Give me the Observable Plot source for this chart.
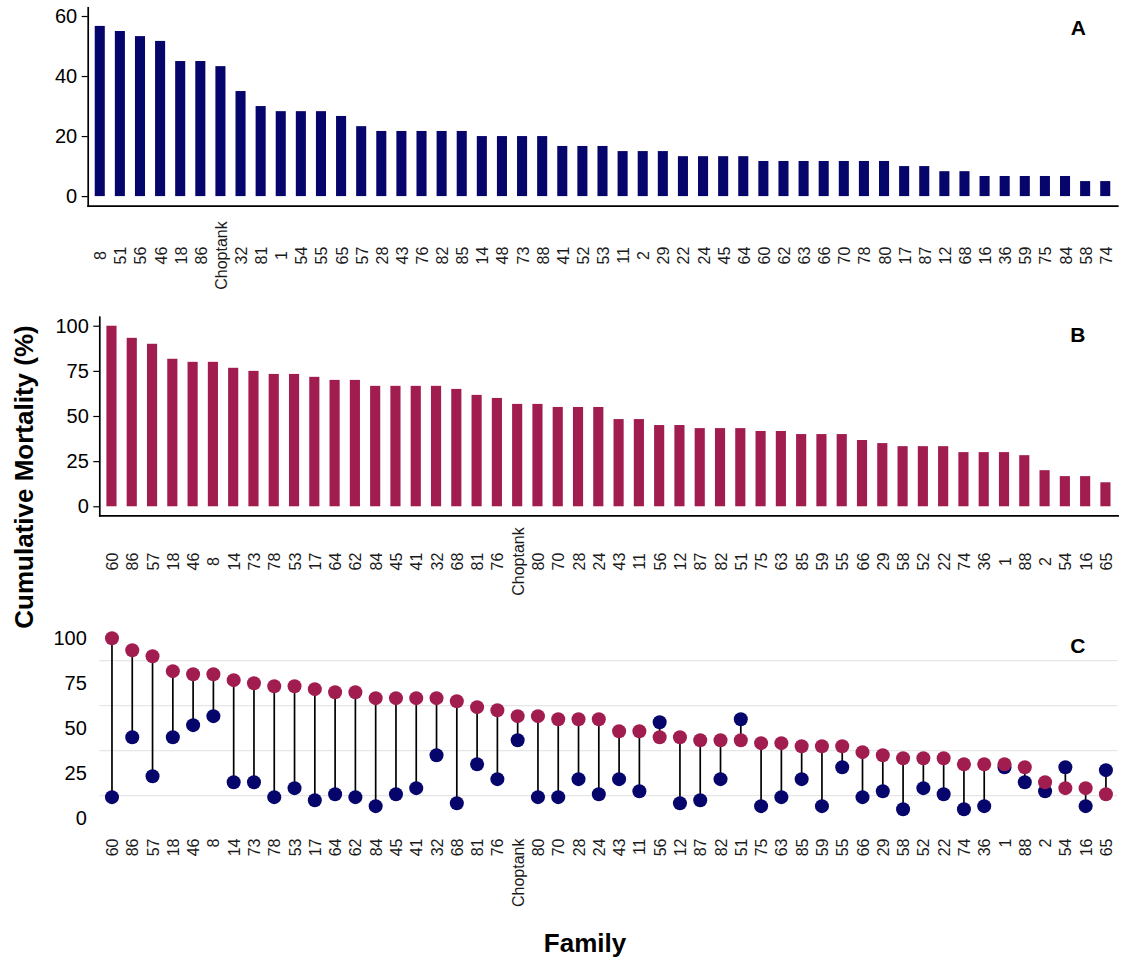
<!DOCTYPE html>
<html>
<head>
<meta charset="utf-8">
<script src="https://cdn.jsdelivr.net/npm/d3@7"></script>
<script src="https://cdn.jsdelivr.net/npm/@observablehq/plot@0.6"></script>
<style>
  body { margin: 0; background: #fff; }
  #fig { position: relative; width: 1123px; height: 961px; font-family: "Liberation Sans", Arial, Helvetica, sans-serif; color: #000; }
  .panel { position: absolute; left: 0; }
  .axis-title { position: absolute; font-weight: bold; font-size: 26px; white-space: nowrap; line-height: 1; }
</style>
</head>
<body>
<div id="fig"></div>
<script>
// Families ranked by cumulative mortality, trial A
const familiesA = ["8","51","56","46","18","86","Choptank","32","81","1","54","55","65","57","28","43","76","82","85","14","48","73","88","41","52","53","11","2","29","22","24","45","64","60","62","63","66","70","78","80","17","87","12","68","16","36","59","75","84","58","74"];
const mortalityA = [56.7,55,53.3,51.7,45,45,43.3,35,30,28.3,28.3,28.3,26.7,23.3,21.7,21.7,21.7,21.7,21.7,20,20,20,20,16.7,16.7,16.7,15,15,15,13.3,13.3,13.3,13.3,11.7,11.7,11.7,11.7,11.7,11.7,11.7,10,10,8.3,8.3,6.7,6.7,6.7,6.7,6.7,5,5];

// Families ranked by cumulative mortality, trial B
const familiesB = ["60","86","57","18","46","8","14","73","78","53","17","64","62","84","45","41","32","68","81","76","Choptank","80","70","28","24","43","11","56","12","87","82","51","75","63","85","59","55","66","29","58","52","22","74","36","1","88","2","54","16","65"];
const mortalityB = [100,93.3,90,81.7,80,80,76.7,75,73.3,73.3,71.7,70,70,66.7,66.7,66.7,66.7,65,61.7,60,56.7,56.7,55,55,55,48.3,48.3,45,45,43.3,43.3,43.3,41.7,41.7,40,40,40,36.7,35,33.3,33.3,33.3,30,30,30,28.3,20,16.7,16.7,13.3];

const ticksA = [0, 20, 40, 60];
const ticksBC = [0, 25, 50, 75, 100];
const gridC = [12.5, 37.5, 62.5, 87.5];

const navy = "#05056b";
const crimson = "#a11d50";
const font = "Liberation Sans, Arial, Helvetica, sans-serif";

const dataA = familiesA.map((f, i) => ({family: f, value: mortalityA[i]}));
const dataB = familiesB.map((f, i) => ({family: f, value: mortalityB[i]}));
const byFamilyA = new Map(dataA.map(d => [d.family, d.value]));
// paired view: both trials for families present in B, in B's order
const dataC = familiesB.map((f, i) => ({family: f, a: byFamilyA.get(f), b: mortalityB[i]}));

const style = {fontFamily: font, fontSize: "20px", color: "#000", background: "#fff", overflow: "visible"};
const bandX = (domain) => ({type: "band", domain, paddingInner: 0.5, paddingOuter: 0.35, round: false, axis: null});

const fig = document.getElementById("fig");
function place(node, top) {
  node.classList.add("panel");
  node.style.top = top + "px";
  fig.appendChild(node);
}

// Panel A: bars
const plotA = Plot.plot({
  width: 1123, height: 300,
  marginTop: 7.3, marginBottom: 94.3, marginLeft: 87.7, marginRight: 5.7,
  style,
  x: bandX(familiesA),
  y: {domain: [-3.2, 62.9]},
  marks: [
    Plot.barY(dataA, {x: "family", y: "value", fill: navy}),
    Plot.frame({anchor: "bottom", stroke: "#000", strokeWidth: 1.7}),
    Plot.frame({anchor: "left", stroke: "#000", strokeWidth: 1.7}),
    Plot.axisY({ticks: ticksA, label: null, tickSize: 6, tickPadding: 5, tickFormat: d => d, stroke: "#000", strokeWidth: 1.2}),
    Plot.text(familiesA, {x: d => d, frameAnchor: "bottom", dy: 49.3, dx: 6, rotate: -90, fontSize: 16, fill: "#1a1a1a"}),
    Plot.text(["A"], {frameAnchor: "top-right", dx: -32, dy: 12.7, fontWeight: "bold", fontSize: 21})
  ]
});
place(plotA, 0);

// Panel B: bars
const plotB = Plot.plot({
  width: 1123, height: 300,
  marginTop: 16.7, marginBottom: 84.7, marginLeft: 99.3, marginRight: 5.4,
  style,
  x: bandX(familiesB),
  y: {domain: [-5, 105]},
  marks: [
    Plot.barY(dataB, {x: "family", y: "value", fill: crimson}),
    Plot.frame({anchor: "bottom", stroke: "#000", strokeWidth: 1.7}),
    Plot.frame({anchor: "left", stroke: "#000", strokeWidth: 1.7}),
    Plot.axisY({ticks: ticksBC, label: null, tickSize: 6, tickPadding: 5, tickFormat: d => d, stroke: "#000", strokeWidth: 1.2}),
    Plot.text(familiesB, {x: d => d, frameAnchor: "bottom", dy: 45.7, dx: 6, rotate: -90, fontSize: 16, fill: "#1a1a1a"}),
    Plot.text(["B"], {frameAnchor: "top-right", dx: -32.6, dy: 10.3, fontWeight: "bold", fontSize: 21})
  ]
});
place(plotB, 300);

// Panel C: dumbbells linking trial A (navy) to trial B (crimson)
const plotC = Plot.plot({
  width: 1123, height: 300,
  marginTop: 28.7, marginBottom: 73.3, marginLeft: 99.3, marginRight: 5.4,
  style,
  x: bandX(familiesB),
  y: {domain: [-5, 105]},
  marks: [
    Plot.gridY(gridC, {stroke: "#e6e6e6", strokeOpacity: 1, strokeWidth: 1.2}),
    Plot.axisY({ticks: ticksBC, label: null, tickSize: 0, tickPadding: 13, tickFormat: d => d}),
    Plot.ruleX(dataC, {x: "family", y1: "a", y2: "b", stroke: "#000", strokeWidth: 1.7}),
    Plot.dot(dataC, {x: "family", y: "a", r: 7, fill: navy, stroke: null}),
    Plot.dot(dataC, {x: "family", y: "b", r: 7, fill: crimson, stroke: null}),
    Plot.text(familiesB, {x: d => d, frameAnchor: "bottom", dy: 11.3, dx: 6, rotate: -90, textAnchor: "end", fontSize: 16, fill: "#1a1a1a"}),
    Plot.text(["C"], {frameAnchor: "top-right", dx: -32.6, dy: 8.8, fontWeight: "bold", fontSize: 21})
  ]
});
place(plotC, 600);

// Shared axis titles
const yTitle = document.createElement("div");
yTitle.className = "axis-title";
yTitle.textContent = "Cumulative Mortality (%)";
yTitle.style.left = "24px";
yTitle.style.top = "477px";
yTitle.style.transform = "translate(-50%, -50%) rotate(-90deg)";
fig.appendChild(yTitle);

const xTitle = document.createElement("div");
xTitle.className = "axis-title";
xTitle.textContent = "Family";
xTitle.style.left = "585px";
xTitle.style.top = "943px";
xTitle.style.transform = "translate(-50%, -50%)";
fig.appendChild(xTitle);
</script>
</body>
</html>
